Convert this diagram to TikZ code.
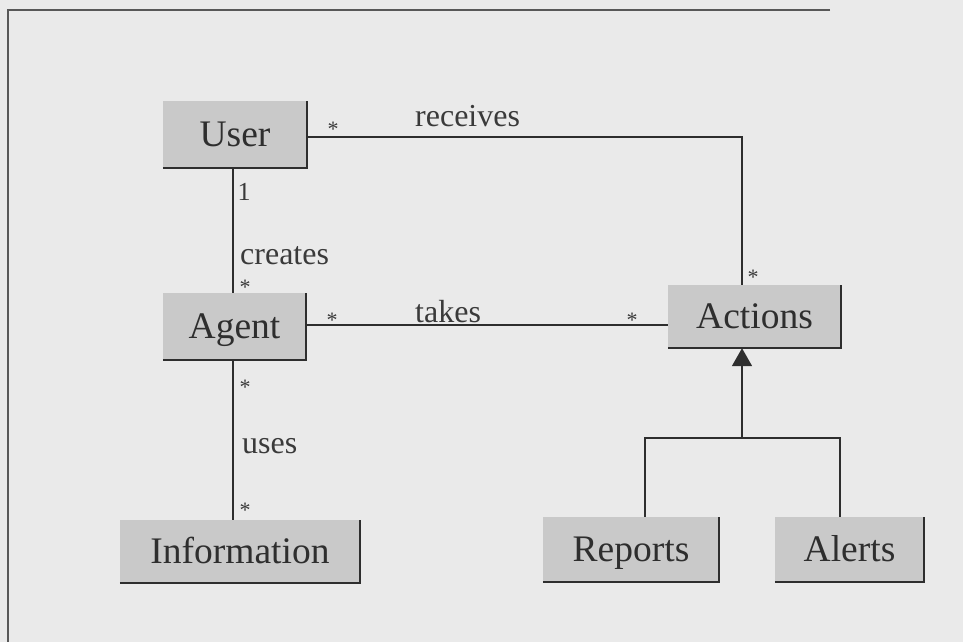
\documentclass[tikz,border=0pt]{standalone}
\usepackage{fontspec}
\setmainfont{Liberation Serif}
\usetikzlibrary{arrows.meta,calc}
\definecolor{bg}{HTML}{EAEAEA}
\definecolor{boxfill}{HTML}{C9C9C9}
\definecolor{ink}{HTML}{2E2E2E}
\definecolor{lbl}{HTML}{3A3A3A}
\tikzset{
  cls/.style={fill=boxfill, inner sep=0pt, text=ink, text height=24pt, text depth=0pt, font=\fontsize{37.5}{40}\selectfont},
  conn/.style={draw=ink, line width=1.8pt},
  lab/.style={anchor=base west, inner sep=0pt, text=lbl, font=\fontsize{32}{36}\selectfont},
  mult/.style={anchor=base, inner sep=0pt, text=lbl, font=\fontsize{22}{24}\selectfont},
  frame/.style={draw=ink!80, line width=1.5pt}
}
\newcommand{\edges}[1]{\draw[conn] (#1.south west) -- (#1.south east) -- (#1.north east);}
\begin{document}
\begin{tikzpicture}[x=1pt,y=-1pt]
\fill[bg] (0,0) rectangle (963,642);
\useasboundingbox (0,0) rectangle (963,642);
% frame
\coordinate (f1) at (830,10);
\coordinate (f2) at (8,10);
\coordinate (f3) at (8,642);
\draw[frame] (f1) -- (f2) -- (f3);
% classes
\node[cls, minimum width=144pt, minimum height=67pt] (u) at (235,134.5) {User};
\node[cls, minimum width=143pt, minimum height=67pt] (ag) at (234.5,326.5) {Agent};
\node[cls, minimum width=240pt, minimum height=63pt] (inf) at (240,551.5) {Information};
\node[cls, minimum width=173pt, minimum height=63pt] (ac) at (754.5,316.5) {Actions};
\node[cls, minimum width=176pt, minimum height=65pt] (re) at (631,549.5) {Reports};
\node[cls, minimum width=149pt, minimum height=65pt] (al) at (849.5,549.5) {Alerts};
\edges{u}\edges{ag}\edges{inf}\edges{ac}\edges{re}\edges{al}
% connector coordinates
\coordinate (ux) at (233,0);
\coordinate (acx) at (742,0);
\coordinate (ry) at (0,137);
\coordinate (ty) at (0,325);
\coordinate (bar) at (742,438);
\coordinate (barL) at (645,438);
\coordinate (barR) at (840,438);
% associations
\draw[conn] (u.east |- ry) -- (acx |- ry) -- (acx |- ac.north);
\draw[conn] (u.south -| ux) -- (ag.north -| ux);
\draw[conn] (ag.east |- ty) -- (ac.west |- ty);
\draw[conn] (ag.south -| ux) -- (inf.north -| ux);
% generalization
\draw[conn, -{Triangle[width=20pt,length=18pt]}] (bar) -- (bar |- ac.south);
\draw[conn] (re.north -| barL) -- (barL) -- (barR) -- (al.north -| barR);
% labels
\node[lab] (lrec) at (415,126) {receives};
\node[lab] (lcre) at (240,264) {creates};
\node[lab] (ltak) at (415,322) {takes};
\node[lab] (luse) at (242,453) {uses};
\node[mult, font=\fontsize{26}{28}\selectfont] (m1) at (244,200) {1};
\node[mult] (s1) at (333,136) {*};
\node[mult] (s2) at (245,294) {*};
\node[mult] (s3) at (332,327) {*};
\node[mult] (s4) at (632,327) {*};
\node[mult] (s5) at (753,284) {*};
\node[mult] (s6) at (245,394) {*};
\node[mult] (s7) at (245,517) {*};
\end{tikzpicture}
\end{document}
